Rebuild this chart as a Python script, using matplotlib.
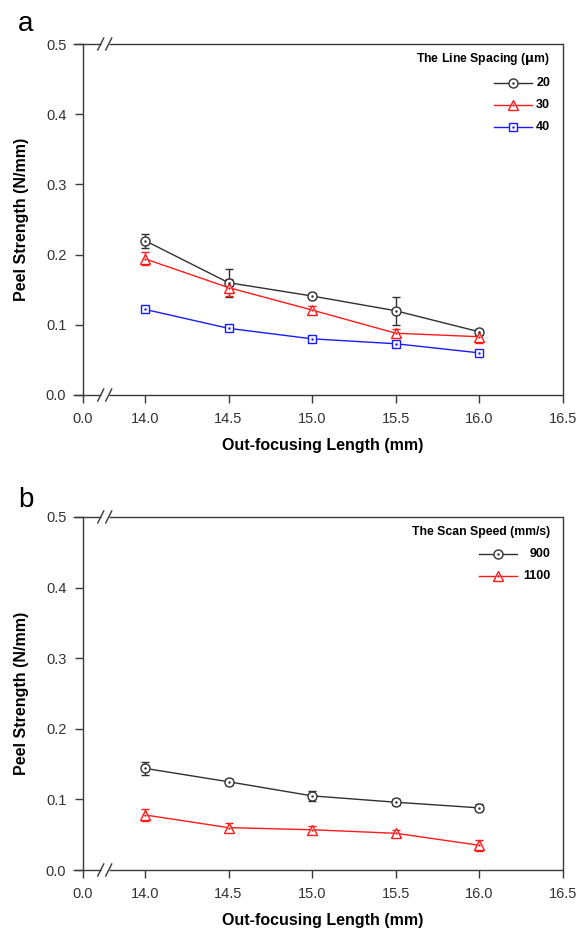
import numpy as np
import matplotlib
matplotlib.use("Agg")
import matplotlib.pyplot as plt

plt.rcParams['font.family'] = ['Liberation Sans', 'DejaVu Sans']

# Data ---------------------------------------------------------------------------------------------
length = [14.0, 14.5, 15.0, 15.5, 16.0]

# Panel a: line spacing (um)
spacing_labels = ["20", "30", "40"]
spacing_20     = [0.220, 0.160, 0.141, 0.120, 0.090]
spacing_20_err = [0.010, 0.020, 0.004, 0.020, 0.004]
spacing_30     = [0.194, 0.153, 0.121, 0.088, 0.083]
spacing_30_err = [0.009, 0.012, 0.006, 0.006, 0.009]
spacing_40     = [0.122, 0.095, 0.080, 0.073, 0.060]
spacing_40_err = [0.003, 0.003, 0.003, 0.003, 0.003]

# Panel b: scan speed (mm/s)
speed_labels = ["900", "1100"]
speed_900     = [0.144, 0.125, 0.105, 0.096, 0.088]
speed_900_err = [0.009, 0.004, 0.007, 0.004, 0.005]
speed_1100     = [0.078, 0.060, 0.057, 0.052, 0.035]
speed_1100_err = [0.008, 0.006, 0.005, 0.005, 0.008]

x_ticks       = [14.0, 14.5, 15.0, 15.5, 16.0, 16.5]
x_tick_labels = ["14.0", "14.5", "15.0", "15.5", "16.0", "16.5"]
y_ticks       = [0.0, 0.1, 0.2, 0.3, 0.4, 0.5]

# Styles -------------------------------------------------------------------------------------------
X_ZERO   = 13.63   # where the broken axis shows "0.0"
AX_COLOR = "#3a3a3a"
STYLES = [
    dict(color="#303030", marker="o", ms=6.5),
    dict(color="#ff1a1a", marker="^", ms=7.5),
    dict(color="#1a1aff", marker="s", ms=6.0),
]

def draw_series(ax, y, err, st):
    ax.errorbar(length, y, yerr=err, color=st["color"], lw=1.0, elinewidth=1.0,
                capsize=3, capthick=1.0, marker=st["marker"], ms=st["ms"],
                mfc="white", mec=st["color"], mew=1.0, zorder=3)
    ax.plot(length, y, ls="none", marker=".", ms=1.5, color=st["color"], zorder=4)

def draw_legend(ax, title, labels, styles, y0, hx0, hx1):
    ax.text(0.973, 0.957, title, transform=ax.transAxes, ha="right", va="center",
            fontsize=8.8, fontweight="bold")
    for i, (lab, st) in enumerate(zip(labels, styles)):
        yy = y0 - i * 0.0625
        ax.plot([hx0, hx1], [yy, yy], transform=ax.transAxes, color=st["color"], lw=1.0,
                clip_on=False)
        ax.plot([(hx0 + hx1) / 2], [yy], transform=ax.transAxes, ls="none",
                marker=st["marker"], ms=st["ms"], mfc="white", mec=st["color"], mew=1.0,
                clip_on=False)
        ax.plot([(hx0 + hx1) / 2], [yy], transform=ax.transAxes, ls="none", marker=".",
                ms=1.5, color=st["color"], clip_on=False)
        ax.text(0.973, yy, lab, transform=ax.transAxes, ha="right", va="center",
                fontsize=9, fontweight="bold")

def setup_axes(ax):
    ax.set_xlim(X_ZERO, 16.5)
    ax.set_ylim(0.0, 0.5)
    ax.set_xticks([X_ZERO] + x_ticks)
    ax.set_xticklabels(["0.0"] + x_tick_labels)
    ax.set_yticks(y_ticks)
    ax.set_yticklabels(["%.1f" % v for v in y_ticks])
    ax.tick_params(direction="out", length=6, width=1.0, color=AX_COLOR,
                   labelsize=10.5, labelcolor="#333333", pad=6)
    for s in ax.spines.values():
        s.set_color(AX_COLOR)
        s.set_linewidth(1.0)
    ax.spines["top"].set_visible(False)
    ax.spines["bottom"].set_visible(False)
    # top / bottom lines with a "//" break, start a bit left of the y axis like the tick
    bx  = (13.76 - X_ZERO) / (16.5 - X_ZERO)
    gap = 4.0 / 480
    for yy in (0.0, 1.0):
        ax.plot([-10.0 / 480, bx - gap], [yy, yy], transform=ax.transAxes, color=AX_COLOR,
                lw=1.0, clip_on=False, solid_capstyle="butt")
        ax.plot([bx + gap, 1.0], [yy, yy], transform=ax.transAxes, color=AX_COLOR,
                lw=1.0, clip_on=False, solid_capstyle="butt")
        for cx in (bx - gap, bx + gap):
            ax.plot([cx - 3.0 / 480, cx + 3.0 / 480], [yy - 6.0 / 351, yy + 6.0 / 351],
                    transform=ax.transAxes, color=AX_COLOR, lw=1.0, clip_on=False)
    ax.set_xlabel("Out-focusing Length (mm)", fontsize=11.5, fontweight="bold", labelpad=9)
    ax.set_ylabel("Peel Strength (N/mm)", fontsize=11.5, fontweight="bold", labelpad=12)

# Figure -------------------------------------------------------------------------------------------
fig = plt.figure(figsize=(5.8, 9.33), dpi=100)
ax_a = fig.add_axes([83 / 580, 1 - 395 / 933, 480 / 580, 351 / 933])
ax_b = fig.add_axes([83 / 580, 1 - 870 / 933, 480 / 580, 353 / 933])

for ax in (ax_a, ax_b):
    setup_axes(ax)

draw_series(ax_a, spacing_20, spacing_20_err, STYLES[0])
draw_series(ax_a, spacing_30, spacing_30_err, STYLES[1])
draw_series(ax_a, spacing_40, spacing_40_err, STYLES[2])
draw_legend(ax_a, "The Line Spacing ($\\mathbf{\\mu}$m)", spacing_labels, STYLES,
            0.889, 0.856, 0.935)

draw_series(ax_b, speed_900, speed_900_err, STYLES[0])
draw_series(ax_b, speed_1100, speed_1100_err, STYLES[1])
draw_legend(ax_b, "The Scan Speed (mm/s)", speed_labels, STYLES[:2],
            0.895, 0.825, 0.904)

fig.text(18 / 580, 1 - 24 / 933, "a", fontsize=20, ha="left", va="center")
fig.text(18 / 580, 1 - 500 / 933, "b", fontsize=20, ha="left", va="center")

fig.savefig("out.png", dpi=100)
